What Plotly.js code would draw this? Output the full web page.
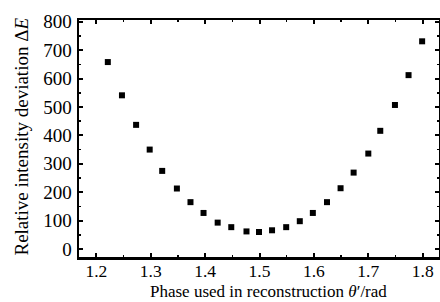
<!DOCTYPE html>
<html>
<head>
<meta charset="utf-8">
<script src="https://cdn.plot.ly/plotly-3.0.1.min.js"></script>
<style>html,body{margin:0;padding:0;background:#fff;}#chart{width:440px;height:302px;}</style>
</head>
<body>
<div id="chart"></div>
<script>
const phase = [1.221, 1.247, 1.273, 1.298, 1.321, 1.348, 1.373, 1.397, 1.423, 1.448, 1.476, 1.499,
               1.523, 1.549, 1.574, 1.598, 1.624, 1.649, 1.673, 1.700, 1.722, 1.749, 1.774, 1.799];
const deviation = [658, 541, 437, 350, 275, 213, 165, 127, 93, 77, 62, 60,
                   66, 77, 98, 127, 165, 214, 269, 336, 416, 507, 612, 731];
const xTicks = [1.2, 1.3, 1.4, 1.5, 1.6, 1.7, 1.8];
const xTickLabels = ['1.2', '1.3', '1.4', '1.5', '1.6', '1.7', '1.8'];
const yTicks = [0, 100, 200, 300, 400, 500, 600, 700, 800];
const yTickLabels = ['0', '100', '200', '300', '400', '500', '600', '700', '800'];
const xTitle = 'Phase used in reconstruction <i>θ</i>′/rad';
const yTitle = 'Relative intensity deviation Δ<i>E</i>';

const serif = 'Liberation Serif, Times New Roman, serif';
const trace = {
  x: phase, y: deviation, type: 'scatter', mode: 'markers',
  marker: {symbol: 'square', size: 6, color: '#000'},
  hoverinfo: 'none'
};
const layout = {
  width: 440, height: 302,
  margin: {l: 79, r: 1, t: 20, b: 45},
  paper_bgcolor: '#fff', plot_bgcolor: '#fff',
  showlegend: false,
  font: {family: serif, color: '#000', size: 18},
  xaxis: {
    range: [1.168, 1.83], tickvals: xTicks, ticktext: xTickLabels,
    ticks: 'inside', ticklen: 4, tickwidth: 2, tickcolor: '#000',
    showline: true, linewidth: 2.5, linecolor: '#000', mirror: 'ticks',
    showgrid: false, zeroline: false,
    minor: {dtick: 0.05, tick0: 1.2, ticks: 'inside', ticklen: 2, tickwidth: 1.5, tickcolor: '#000', showgrid: false},
    tickfont: {family: serif, size: 17.5, color: '#000'},
    ticklabelstandoff: -4
  },
  yaxis: {
    range: [-28, 806], tickvals: yTicks, ticktext: yTickLabels,
    ticks: 'inside', ticklen: 4, tickwidth: 2, tickcolor: '#000',
    showline: true, linewidth: 2.5, linecolor: '#000', mirror: 'ticks',
    showgrid: false, zeroline: false,
    minor: {dtick: 50, tick0: 0, ticks: 'inside', ticklen: 2, tickwidth: 1.5, tickcolor: '#000', showgrid: false},
    tickfont: {family: serif, size: 19, color: '#000'},
    ticklabelstandoff: 1
  },
  annotations: [
    {text: xTitle, xref: 'paper', yref: 'paper', x: 0.525, y: -0.145, xanchor: 'center', yanchor: 'middle',
     showarrow: false, font: {family: serif, size: 17, color: '#000'}},
    {text: yTitle, xref: 'paper', yref: 'paper', x: -0.16, y: 0.51, xanchor: 'center', yanchor: 'middle',
     textangle: -90, showarrow: false, font: {family: serif, size: 19, color: '#000'}}
  ]
};
Plotly.newPlot('chart', [trace], layout, {staticPlot: true, displayModeBar: false});
</script>
</body>
</html>
